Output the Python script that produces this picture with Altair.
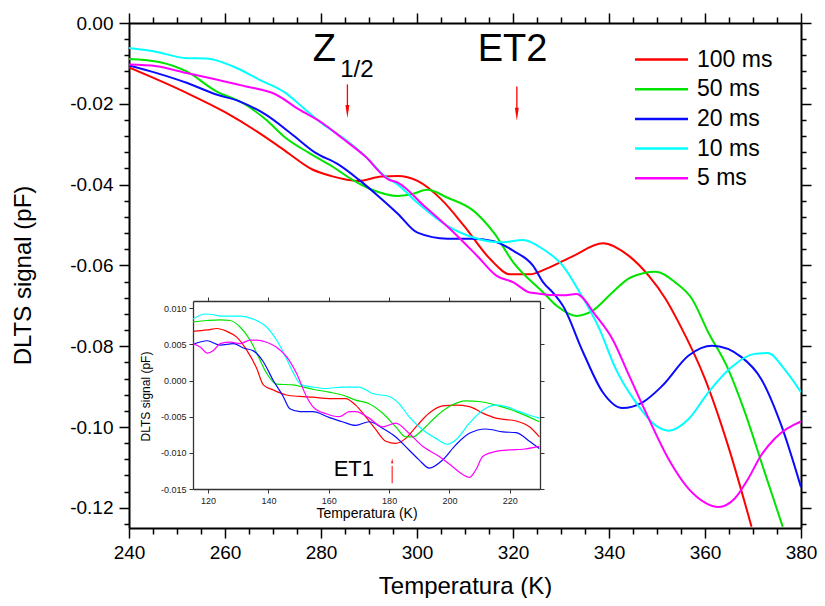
import altair as alt
import pandas as pd

FONT = "Liberation Sans"
SERIES = ["100 ms", "50 ms", "20 ms", "10 ms", "5 ms"]
COLORS = ["#ff0000", "#00e400", "#0a0aff", "#00ffff", "#ff00ff"]

# ---------------- main curves (Temperature K, DLTS signal pF) ----------------
RED_T = [240, 245.1, 252, 260.2, 267.1, 272.6, 278.1, 282.2, 287.8, 292.6, 296, 300.1, 305, 309.8,
         315.3, 319.4, 323.5, 327, 332.5, 338.7, 344.2, 348.3, 351.8, 354.5, 360, 364.8, 369.7]
RED_V = [-0.011, -0.0136, -0.0173, -0.0222, -0.0272, -0.0317, -0.0362, -0.0379, -0.0391, -0.038,
         -0.0379, -0.0391, -0.0436, -0.0502, -0.0585, -0.0622, -0.0622, -0.0608, -0.0577, -0.0545,
         -0.0577, -0.0626, -0.0683, -0.0741, -0.0881, -0.1046, -0.1247]

GREEN_T = [240, 246.5, 252, 258.2, 263.7, 268.5, 272.6, 277.4, 282.2, 286.4, 290.5, 296, 298.8, 302.2,
           306.3, 311.8, 316, 320.1, 326.3, 329.1, 333.2, 336.6, 340.7, 344.5, 349.7, 353.8, 357.3,
           360.7, 364.8, 368.3, 372.4, 376.2]
GREEN_V = [-0.0089, -0.0097, -0.012, -0.0169, -0.0198, -0.0239, -0.0284, -0.0321, -0.0354, -0.0387,
           -0.0412, -0.0428, -0.0424, -0.0413, -0.0432, -0.0465, -0.0519, -0.0593, -0.0667, -0.07,
           -0.0725, -0.0712, -0.0667, -0.063, -0.0616, -0.0642, -0.0683, -0.0766, -0.0856, -0.0963,
           -0.1111, -0.1247]

BLUE_T = [240, 245.8, 252, 258.2, 263, 268.5, 274, 278.8, 283.6, 287.8, 291.9, 296, 300.1, 306.3,
          311.1, 316, 320.1, 324.2, 326.3, 328.5, 330.4, 334.6, 338.7, 342.8, 347, 351.1, 356.6,
          361.5, 367.6, 371.7, 375.9, 380]
BLUE_V = [-0.0105, -0.0124, -0.0148, -0.0177, -0.0194, -0.0227, -0.0276, -0.0321, -0.035, -0.0387,
          -0.0428, -0.0472, -0.0519, -0.0534, -0.0534, -0.054, -0.0564, -0.0601, -0.0642, -0.067,
          -0.07, -0.0815, -0.0914, -0.0953, -0.0939, -0.0898, -0.0823, -0.0799, -0.0827, -0.0881,
          -0.0996, -0.1149]

CYAN_T = [240, 245.1, 252, 256.1, 261.6, 267.1, 272.6, 276.7, 280.9, 285, 289.2, 293.3, 296, 300.1,
          306.3, 311.8, 317.3, 322.1, 326.3, 330.4, 333.9, 338, 341.4, 345.6, 349.7, 352.4, 356.6,
          360.7, 365.5, 370.3, 373.1, 376.5, 380]
CYAN_V = [-0.0062, -0.007, -0.0087, -0.0088, -0.0107, -0.014, -0.0173, -0.0214, -0.0255, -0.0288,
          -0.033, -0.0379, -0.04, -0.0445, -0.0502, -0.0531, -0.0543, -0.0537, -0.056, -0.0601,
          -0.0667, -0.0757, -0.0856, -0.0939, -0.0996, -0.1009, -0.098, -0.0914, -0.0852, -0.0819,
          -0.0817, -0.0856, -0.0914]

MAG_T = [240, 245.8, 252, 258.2, 264.4, 270.6, 275.4, 280.2, 284.3, 289.2, 294, 296, 301.5, 307.7,
         312.5, 316.6, 320.1, 323.5, 330.4, 333.2, 337.3, 340.7, 344.2, 348.3, 352.4, 356.6, 360,
         362.8, 366.2, 369, 371.7, 374.5, 380]
MAG_V = [-0.0103, -0.0107, -0.0124, -0.014, -0.0157, -0.0177, -0.0214, -0.0247, -0.0284, -0.033,
         -0.0387, -0.0395, -0.0453, -0.0519, -0.0576, -0.0626, -0.0642, -0.0667, -0.0674, -0.0671,
         -0.0725, -0.0782, -0.0873, -0.098, -0.1079, -0.1153, -0.1187, -0.1198, -0.1177, -0.1128,
         -0.107, -0.1029, -0.0986]

# ---------------- inset curves ----------------
IN_RED_T = [115, 119.7, 123, 126.2, 129.5, 132.8, 136.1, 138.3, 141.6, 146, 150.4, 154.7, 160.1,
            165.6, 168.9, 172.2, 175.6, 178.9, 182.2, 185.5, 188.9, 193.3, 197.7, 202.1, 206.6, 211,
            215.4, 222.1, 226.5, 229.8]
IN_RED_V = [0.0068, 0.007, 0.0072, 0.0068, 0.006, 0.0042, 0.0017, -0.0006, -0.0013, -0.002, -0.0022,
            -0.0023, -0.0025, -0.0025, -0.0034, -0.005, -0.0068, -0.0084, -0.0087, -0.008, -0.0064,
            -0.0045, -0.0035, -0.0034, -0.0036, -0.0045, -0.0052, -0.0056, -0.0064, -0.0078]

IN_GREEN_T = [115, 119.7, 124, 127.3, 130.6, 133.9, 136.7, 139.4, 142.7, 148.2, 151.5, 154.7, 160.1,
              164.5, 168.9, 173.4, 177.8, 182.2, 185.5, 187.8, 191.1, 195.5, 199.9, 205.5, 209.9,
              215.4, 222.1, 229.8]
IN_GREEN_V = [0.0081, 0.0083, 0.0084, 0.0083, 0.0074, 0.0056, 0.0033, 0.001, -0.0005, -0.0006,
              -0.0009, -0.0012, -0.0016, -0.002, -0.0027, -0.0032, -0.0045, -0.0064, -0.0078, -0.0078,
              -0.0068, -0.005, -0.0036, -0.0028, -0.0029, -0.0034, -0.0043, -0.0057]

IN_BLUE_T = [115, 119.7, 124, 128.4, 131.7, 135, 138.3, 141.6, 144.9, 147.1, 150.4, 154.7, 160.1,
             164.5, 168.9, 173.4, 177.8, 182.2, 186.6, 190, 193.3, 197.7, 202.1, 206.6, 212.1, 217.7,
             222.1, 226.5, 229.8]
IN_BLUE_V = [0.005, 0.0055, 0.0049, 0.0051, 0.0045, 0.0041, 0.0026, 0.0, -0.0022, -0.0039, -0.0043,
             -0.0043, -0.0051, -0.0057, -0.0062, -0.0057, -0.0066, -0.0078, -0.0096, -0.011, -0.0121,
             -0.011, -0.0089, -0.0073, -0.0067, -0.0071, -0.0072, -0.0084, -0.0094]

IN_CYAN_T = [115, 119.1, 121.9, 124, 130.6, 135, 139.4, 142.7, 146, 148.7, 150.9, 154.7, 159.1, 164.5,
             170, 174.5, 180, 183.3, 186.6, 191.1, 195.5, 199.4, 202.1, 206.6, 211, 215.4, 218.8,
             223.2, 226.5, 229.8]
IN_CYAN_V = [0.0085, 0.0092, 0.0091, 0.0089, 0.0089, 0.0085, 0.0074, 0.0056, 0.003, 0.0007, -0.0006,
             -0.0009, -0.0011, -0.0009, -0.0009, -0.0018, -0.0022, -0.0032, -0.005, -0.0068, -0.008,
             -0.0088, -0.0082, -0.0059, -0.0041, -0.0034, -0.0036, -0.0043, -0.0048, -0.0052]

IN_MAG_T = [115, 117.5, 119.7, 121.9, 124, 127.3, 130.6, 133.9, 136.1, 139.4, 142.7, 146, 149.3,
            152.6, 154.7, 159.1, 163.5, 166.8, 168.9, 173.4, 177.8, 182.2, 186.6, 191.1, 196.6, 201,
            204.4, 206.6, 208.8, 211, 215.4, 219.9, 224.3, 229.8]
IN_MAG_V = [0.0051, 0.0046, 0.0038, 0.0042, 0.0051, 0.0053, 0.0051, 0.0056, 0.0056, 0.0053, 0.0046,
            0.0033, 0.001, -0.0022, -0.0036, -0.0046, -0.005, -0.0043, -0.0043, -0.0052, -0.0064,
            -0.0059, -0.0073, -0.0091, -0.0105, -0.0119, -0.013, -0.0134, -0.0123, -0.0105, -0.0098,
            -0.0096, -0.0095, -0.0091]

# ---------------- ticks ----------------
X_MAJOR = [240, 260, 280, 300, 320, 340, 360, 380]
X_MINOR = [245, 250, 255, 265, 270, 275, 285, 290, 295, 305, 310, 315, 325, 330, 335, 345, 350,
           355, 365, 370, 375]
Y_MAJOR = [0.0, -0.02, -0.04, -0.06, -0.08, -0.10, -0.12]
Y_MINOR = [-0.004, -0.008, -0.012, -0.016, -0.024, -0.028, -0.032, -0.036, -0.044, -0.048, -0.052,
           -0.056, -0.064, -0.068, -0.072, -0.076, -0.084, -0.088, -0.092, -0.096, -0.104, -0.108,
           -0.112, -0.116, -0.124]
IN_X_MAJOR = [120, 140, 160, 180, 200, 220]
IN_Y_MAJOR = [-0.015, -0.010, -0.005, 0.0, 0.005, 0.010]

# ---------------- annotations ----------------
BIG_LABELS = ["Z", "ET2"]
BIG_T = [280.7, 319.9]
BIG_V = [-0.0095, -0.0095]
SUB_LABEL = ["1/2"]
SUB_T = [284.0]
SUB_V = [-0.0134]
ARROW_T = [285.5, 320.8]
ARROW_TOP = [-0.0152, -0.0157]
ARROW_BASE = [-0.0205, -0.0212]
ARROW_HEAD = [-0.0219, -0.0226]

ET1_T = [168.3]
ET1_V = [-0.0132]
ET1_ARROW_T = [181.0]
ET1_ARROW_LOW = [-0.0142]
ET1_ARROW_HIGH = [-0.0118]
ET1_ARROW_HEAD = [-0.0111]


def long_df(pairs):
    rows = []
    for name, (ts, vs) in zip(SERIES, pairs):
        for t, v in zip(ts, vs):
            rows.append({"series": name, "T": t, "V": v})
    return pd.DataFrame(rows)


main_df = long_df([(RED_T, RED_V), (GREEN_T, GREEN_V), (BLUE_T, BLUE_V), (CYAN_T, CYAN_V), (MAG_T, MAG_V)])
inset_df = long_df([(IN_RED_T, IN_RED_V), (IN_GREEN_T, IN_GREEN_V), (IN_BLUE_T, IN_BLUE_V),
                    (IN_CYAN_T, IN_CYAN_V), (IN_MAG_T, IN_MAG_V)])

W, H = 672, 505
XS = alt.Scale(domain=[240, 380], nice=False, zero=False)
YS = alt.Scale(domain=[-0.125, 0.0], nice=False, zero=False)
XS_IN = alt.Scale(domain=[115, 230], range=[64, 411], nice=False, zero=False)
YS_IN = alt.Scale(domain=[-0.015, 0.011], range=[466, 278], nice=False, zero=False)

MINUS_FIX = "replace(format(datum.value, '{}'), '\u2212', '-')"

AX = dict(domainColor="black", domainWidth=2, tickColor="black", tickWidth=1.5, grid=False,
          labelFont=FONT, labelColor="black", titleFont=FONT, titleColor="black",
          titleFontWeight="normal", labelFlush=False, labelOverlap=False)

# ---------- main panel ----------
lines = alt.Chart(main_df).mark_line(strokeWidth=2, clip=True, interpolate="monotone").encode(
    x=alt.X("T:Q", scale=XS, axis=alt.Axis(
        orient="bottom", values=X_MAJOR, format="d", tickSize=10, labelFontSize=19, labelPadding=5,
        title="Temperatura (K)", titleFontSize=24, titleY=65, titleBaseline="alphabetic", **AX)),
    y=alt.Y("V:Q", scale=YS, axis=alt.Axis(
        orient="left", values=Y_MAJOR, labelExpr=MINUS_FIX.format(".2f"), tickSize=10,
        labelFontSize=19, labelPadding=6, title="DLTS signal (pF)", titleFontSize=24,
        titleX=-99, titleY=252, titleAngle=270, titleAlign="center", titleBaseline="alphabetic", **AX)),
    color=alt.Color("series:N", scale=alt.Scale(domain=SERIES, range=COLORS), legend=alt.Legend(
        orient="none", legendX=518, legendY=22, title=None, symbolType="M-2,0L2,0", symbolSize=702,
        symbolStrokeWidth=2.5, symbolFillColor="transparent", labelFont=FONT, labelFontSize=23,
        labelColor="black", labelOffset=21, rowPadding=2.7, padding=0)),
)

carrier = alt.Chart(main_df).mark_line(opacity=0)
MINOR = dict(domain=False, labels=False, title=None, tickColor="black", tickWidth=1.5, grid=False)
FRAME = dict(labels=False, title=None, domainColor="black", domainWidth=2, tickColor="black",
             tickWidth=1.5, grid=False)

minor_bl = carrier.encode(
    x=alt.X("T:Q", scale=XS, axis=alt.Axis(orient="bottom", values=X_MINOR, tickSize=6, **MINOR)),
    y=alt.Y("V:Q", scale=YS, axis=alt.Axis(orient="left", values=Y_MINOR, tickSize=5, **MINOR)),
)
major_tr = carrier.encode(
    x=alt.X("T:Q", scale=XS, axis=alt.Axis(orient="top", values=X_MAJOR, tickSize=10, **FRAME)),
    y=alt.Y("V:Q", scale=YS, axis=alt.Axis(orient="right", values=Y_MAJOR, tickSize=10, **FRAME)),
)
minor_tr = carrier.encode(
    x=alt.X("T:Q", scale=XS, axis=alt.Axis(orient="top", values=X_MINOR, tickSize=6, **MINOR)),
    y=alt.Y("V:Q", scale=YS, axis=alt.Axis(orient="right", values=Y_MINOR, tickSize=5, **MINOR)),
)

big_df = pd.DataFrame({"label": BIG_LABELS, "T": BIG_T, "V": BIG_V})
big_text = alt.Chart(big_df).mark_text(font=FONT, fontSize=38, align="center", baseline="alphabetic",
                                       color="black").encode(
    x=alt.X("T:Q", scale=XS, axis=None), y=alt.Y("V:Q", scale=YS, axis=None), text="label:N")
sub_df = pd.DataFrame({"label": SUB_LABEL, "T": SUB_T, "V": SUB_V})
sub_text = alt.Chart(sub_df).mark_text(font=FONT, fontSize=24, align="left", baseline="alphabetic",
                                       color="black").encode(
    x=alt.X("T:Q", scale=XS, axis=None), y=alt.Y("V:Q", scale=YS, axis=None), text="label:N")
arr_df = pd.DataFrame({"T": ARROW_T, "top": ARROW_TOP, "base": ARROW_BASE, "head": ARROW_HEAD})
arr_shaft = alt.Chart(arr_df).mark_rule(color="red", strokeWidth=1.3).encode(
    x=alt.X("T:Q", scale=XS, axis=None), y=alt.Y("top:Q", scale=YS, axis=None), y2="base:Q")
arr_head = alt.Chart(arr_df).mark_point(shape="M-0.3,-1L0.3,-1L0,1Z", filled=True, size=169,
                                        color="red", opacity=1).encode(
    x=alt.X("T:Q", scale=XS, axis=None), y=alt.Y("head:Q", scale=YS, axis=None))

main_layer = alt.layer(lines, minor_bl, major_tr, minor_tr, big_text, sub_text, arr_shaft, arr_head
                       ).resolve_axis(x="independent", y="independent")

# ---------- inset panel ----------
IAX = dict(domainColor="#333333", domainWidth=1.3, tickColor="#333333", tickWidth=1, tickSize=4,
           grid=False, labelFont=FONT, labelColor="#222222", labelFontSize=9, labelPadding=3,
           titleFont=FONT, titleColor="black", titleFontWeight="normal", labelFlush=False,
           labelOverlap=False)
IFRAME = dict(labels=False, title=None, domainColor="#333333", domainWidth=1.3, tickColor="#333333",
              tickWidth=1, tickSize=4, grid=False)

in_lines = alt.Chart(inset_df).mark_line(strokeWidth=1.2, interpolate="monotone").encode(
    x=alt.X("T:Q", scale=XS_IN, axis=alt.Axis(
        orient="bottom", offset=-39, values=IN_X_MAJOR, format="d", title="Temperatura (K)",
        titleFontSize=14, titleY=28, titleBaseline="alphabetic", **IAX)),
    y=alt.Y("V:Q", scale=YS_IN, axis=alt.Axis(
        orient="left", offset=-64, values=IN_Y_MAJOR, labelExpr=MINUS_FIX.format(".3f"),
        title="DLTS signal (pF)", titleFontSize=12, titleX=-44, titleY=373, titleAngle=270,
        titleAlign="center", titleBaseline="alphabetic", **IAX)),
    color=alt.Color("series:N", scale=alt.Scale(domain=SERIES, range=COLORS), legend=None),
)
in_frame = alt.Chart(inset_df).mark_line(opacity=0).encode(
    x=alt.X("T:Q", scale=XS_IN, axis=alt.Axis(orient="top", offset=-278, values=IN_X_MAJOR, **IFRAME)),
    y=alt.Y("V:Q", scale=YS_IN, axis=alt.Axis(orient="right", offset=-(W - 411), values=IN_Y_MAJOR,
                                              **IFRAME)),
)
et1_df = pd.DataFrame({"label": ["ET1"], "T": ET1_T, "V": ET1_V})
et1_text = alt.Chart(et1_df).mark_text(font=FONT, fontSize=22, align="center", baseline="alphabetic",
                                       color="black").encode(
    x=alt.X("T:Q", scale=XS_IN, axis=None), y=alt.Y("V:Q", scale=YS_IN, axis=None), text="label:N")
et1_arr_df = pd.DataFrame({"T": ET1_ARROW_T, "low": ET1_ARROW_LOW, "high": ET1_ARROW_HIGH,
                           "head": ET1_ARROW_HEAD})
et1_shaft = alt.Chart(et1_arr_df).mark_rule(color="red", strokeWidth=1).encode(
    x=alt.X("T:Q", scale=XS_IN, axis=None), y=alt.Y("low:Q", scale=YS_IN, axis=None), y2="high:Q")
et1_head = alt.Chart(et1_arr_df).mark_point(shape="M-0.4,1L0.4,1L0,-1Z", filled=True, size=25,
                                            color="red", opacity=1).encode(
    x=alt.X("T:Q", scale=XS_IN, axis=None), y=alt.Y("head:Q", scale=YS_IN, axis=None))

inset_layer = alt.layer(in_lines, in_frame, et1_text, et1_shaft, et1_head
                        ).resolve_axis(x="independent", y="independent")

chart = alt.layer(main_layer, inset_layer).resolve_scale(
    x="independent", y="independent", color="independent"
).properties(
    width=W, height=H,
    padding={"left": 121, "top": 15, "right": 16, "bottom": 70},
    autosize=alt.AutoSizeParams(type="none"),
).configure_view(stroke=None)

chart.save("out.html", embed_options={"renderer": "svg", "actions": False})
